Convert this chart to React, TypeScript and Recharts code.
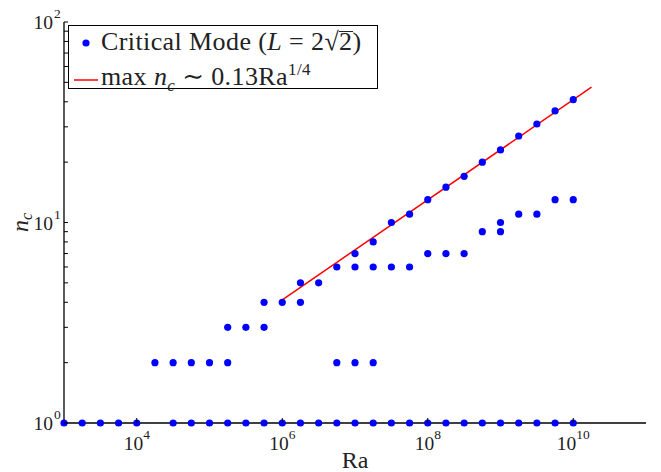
import React from 'react';
import {
  ScatterChart,
  Scatter,
  XAxis,
  YAxis,
  Legend,
} from 'recharts';

// Ra values of the computed cases (exponent of 10), quarter-decade spacing
const RA_EXPONENTS = [
  3, 3.25, 3.5, 3.75, 4, 4.25, 4.5, 4.75, 5, 5.25, 5.5, 5.75, 6, 6.25, 6.5,
  6.75, 7, 7.25, 7.5, 7.75, 8, 8.25, 8.5, 8.75, 9, 9.25, 9.5, 9.75, 10,
];

// critical mode numbers found at each Ra
const CRITICAL_MODES: number[][] = [
  [1], [1], [1], [1], [1],
  [2],
  [1, 2], [1, 2], [1, 2],
  [1, 2, 3],
  [1, 3],
  [1, 3, 4],
  [1, 4],
  [1, 4, 5],
  [1, 5],
  [1, 2, 6],
  [1, 2, 6, 7],
  [1, 2, 6, 8],
  [1, 6, 10],
  [1, 6, 11],
  [1, 7, 13],
  [1, 7, 15],
  [1, 7, 17],
  [1, 9, 20],
  [1, 9, 10, 23],
  [1, 11, 27],
  [1, 11, 31],
  [1, 13, 36],
  [1, 13, 41],
];

// fit line max n_c ~ 0.13 Ra^(1/4), end points
const FIT_RA = [1e6, 1.78e10];
const FIT_N = [4.11, 47.3];

const X_TICKS = [1e4, 1e6, 1e8, 1e10];
const Y_MAJOR = [1, 10, 100];
const Y_TICKS = [
  1, 2, 3, 4, 5, 6, 7, 8, 9, 10, 20, 30, 40, 50, 60, 70, 80, 90, 100,
];

const FONT = '"Liberation Serif", "DejaVu Serif", serif';
const TEXT = '#222';

const modePoints = RA_EXPONENTS.flatMap((e, i) =>
  CRITICAL_MODES[i].map((n) => ({ ra: Math.pow(10, e), n }))
);
const fitPoints = FIT_RA.map((ra, i) => ({ ra, n: FIT_N[i] }));

const exponent = (v: number) => Math.round(Math.log10(v));

const BottomTick = ({ x, y, payload }: any) => (
  <g>
    <line x1={x} x2={x} y1={y} y2={y - 5} stroke="#000" />
    <text
      x={x}
      y={y + 27}
      textAnchor="middle"
      fontFamily={FONT}
      fontSize={19.5}
      fill={TEXT}
    >
      <tspan>10</tspan>
      <tspan dy={-11} fontSize={13.5}>
        {exponent(payload.value)}
      </tspan>
    </text>
  </g>
);

const TopTick = ({ x, y }: any) => (
  <line x1={x} x2={x} y1={y} y2={y + 5} stroke="#000" />
);

const LeftTick = ({ x, y, payload }: any) => {
  const major = Y_MAJOR.includes(payload.value);
  return (
    <g>
      <line x1={x} x2={x + 4} y1={y} y2={y} stroke="#000" />
      {major && (
        <text
          x={x - 11}
          y={y + 7}
          textAnchor="end"
          fontFamily={FONT}
          fontSize={19.5}
          fill={TEXT}
        >
          10
        </text>
      )}
      {major && (
        <text
          x={x - 10}
          y={y - 4}
          textAnchor="start"
          fontFamily={FONT}
          fontSize={13.5}
          fill={TEXT}
        >
          {exponent(payload.value)}
        </text>
      )}
    </g>
  );
};

const RightTick = ({ x, y }: any) => (
  <line x1={x} x2={x - 4} y1={y} y2={y} stroke="#000" />
);

const YLabel = ({ viewBox }: any) => {
  const cx = viewBox.x + 28;
  const cy = viewBox.y + viewBox.height / 2;
  return (
    <text
      transform={`translate(${cx},${cy}) rotate(-90)`}
      textAnchor="middle"
      fontFamily={FONT}
      fontSize={24}
      fill={TEXT}
    >
      <tspan fontStyle="italic">n</tspan>
      <tspan fontStyle="italic" fontSize={16} dy={4}>
        c
      </tspan>
    </text>
  );
};

const XLabel = ({ viewBox }: any) => (
  <text
    x={viewBox.x + viewBox.width / 2}
    y={viewBox.y + 45}
    textAnchor="middle"
    fontFamily={FONT}
    fontSize={24}
    fill={TEXT}
  >
    Ra
  </text>
);

const LegendBox = () => (
  <div
    style={{
      border: '1px solid #000',
      background: '#fff',
      width: 308,
      height: 60,
      fontFamily: FONT,
      fontSize: 26,
      letterSpacing: 0.4,
      color: TEXT,
      lineHeight: '28px',
      paddingTop: 2,
      boxSizing: 'content-box',
    }}
  >
    <div style={{ display: 'flex', alignItems: 'center', whiteSpace: 'nowrap' }}>
      <svg width={32} height={28}>
        <circle cx={17} cy={15} r={3.6} fill="#0000ff" />
      </svg>
      <span>
        Critical Mode (<i>L</i> = 2√
        <span
          style={{
            display: 'inline-block',
            borderTop: '1.5px solid #222',
            lineHeight: '19px',
          }}
        >
          2
        </span>
        )
      </span>
    </div>
    <div style={{ display: 'flex', alignItems: 'center', whiteSpace: 'nowrap' }}>
      <svg width={32} height={28}>
        <line x1={5} x2={29} y1={16} y2={16} stroke="#ff0000" strokeWidth={1.5} />
      </svg>
      <span>
        max <i>n</i>
        <sub style={{ fontSize: 17, fontStyle: 'italic' }}>c</sub> ∼ 0.13Ra
        <sup style={{ fontSize: 17 }}>1/4</sup>
      </span>
    </div>
  </div>
);

export default function App() {
  return (
    <div
      style={{
        position: 'absolute',
        left: 0,
        top: 0,
        width: 661,
        height: 472,
        background: '#fff',
      }}
    >
      <ScatterChart
        width={661}
        height={472}
        margin={{ top: 22, right: 15, bottom: 0, left: 0 }}
      >
        <XAxis
          xAxisId="b"
          dataKey="ra"
          type="number"
          scale="log"
          domain={[1e3, 1e11]}
          ticks={X_TICKS}
          height={49}
          tickSize={0}
          tickMargin={0}
          tickLine={false}
          tick={<BottomTick />}
          axisLine={{ stroke: '#000', strokeWidth: 1.3 }}
          label={<XLabel />}
        />
        <XAxis
          xAxisId="t"
          orientation="top"
          dataKey="ra"
          type="number"
          scale="log"
          domain={[1e3, 1e11]}
          ticks={X_TICKS}
          height={0}
          tickSize={0}
          tickMargin={0}
          tickLine={false}
          tick={<TopTick />}
          axisLine={{ stroke: '#000', strokeWidth: 1.3 }}
        />
        <YAxis
          yAxisId="l"
          dataKey="n"
          type="number"
          scale="log"
          domain={[1, 100]}
          ticks={Y_TICKS}
          interval={0}
          width={64}
          tickSize={0}
          tickMargin={0}
          tickLine={false}
          tick={<LeftTick />}
          axisLine={{ stroke: '#000', strokeWidth: 1.3 }}
          label={<YLabel />}
        />
        <YAxis
          yAxisId="r"
          orientation="right"
          dataKey="n"
          type="number"
          scale="log"
          domain={[1, 100]}
          ticks={Y_TICKS}
          interval={0}
          width={0}
          tickSize={0}
          tickMargin={0}
          tickLine={false}
          tick={<RightTick />}
          axisLine={{ stroke: '#000', strokeWidth: 1.3 }}
        />
        <Scatter
          name="fit"
          xAxisId="b"
          yAxisId="l"
          data={fitPoints}
          line={{ stroke: '#ff0000', strokeWidth: 1.5 }}
          lineType="joint"
          shape={() => null}
          isAnimationActive={false}
        />
        <Scatter
          name="modes"
          xAxisId="b"
          yAxisId="l"
          data={modePoints}
          shape={(p: any) => (
            <circle cx={p.cx} cy={p.cy} r={3.6} fill="#0000ff" />
          )}
          isAnimationActive={false}
        />
        <Legend
          layout="vertical"
          align="center"
          verticalAlign="middle"
          content={<LegendBox />}
          wrapperStyle={{ left: 68, top: 25, width: 310, height: 62 }}
        />
      </ScatterChart>
    </div>
  );
}
